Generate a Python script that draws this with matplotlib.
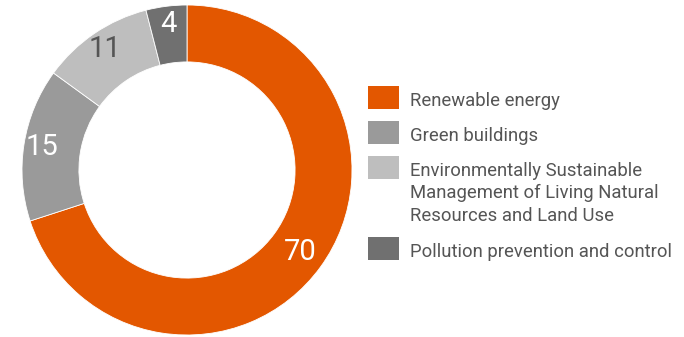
import numpy as np
import matplotlib
matplotlib.use("Agg")
import matplotlib.pyplot as plt
from matplotlib.patches import Rectangle

# data
categories = ["Renewable energy",
              "Green buildings",
              "Environmentally Sustainable\nManagement of Living Natural\nResources and Land Use",
              "Pollution prevention and control"]
values = [70, 15, 11, 4]
colors = ["#E35700", "#9A9A9A", "#BEBEBE", "#707070"]
label_colors = ["white", "white", "#555555", "white"]

plt.rcParams['font.family'] = ['Roboto', 'DejaVu Sans']

W, H = 684, 337
fig = plt.figure(figsize=(W / 100, H / 100), dpi=100)

# donut: centre (187,170) px, outer radius 165 px
cx, cy, R = 187, 170, 165
ax = fig.add_axes([(cx - R) / W, (H - cy - R) / H, 2 * R / W, 2 * R / H])
wedges, _ = ax.pie(values, colors=colors, startangle=90, counterclock=False,
                   radius=1, wedgeprops=dict(width=0.345, edgecolor="white", linewidth=0.6))
ax.set_xlim(-1, 1)
ax.set_ylim(-1, 1)
ax.set_aspect("equal")
ax.axis("off")

for w, v, tc in zip(wedges, values, label_colors):
    ang = np.deg2rad((w.theta1 + w.theta2) / 2)
    r = 0.85 if v > 50 else 0.89
    ax.text(r * np.cos(ang), r * np.sin(ang), str(v), color=tc, fontsize=21,
            ha="center", va="center")

# legend drawn by hand so the multi-line entry aligns to its first line
tops = [86, 121, 156, 237]
for top, lab, c in zip(tops, categories, colors):
    fig.patches.append(Rectangle((368 / W, 1 - (top + 23) / H), 31 / W, 23 / H,
                                 transform=fig.transFigure, facecolor=c, edgecolor="none"))
    for i, line in enumerate(lab.split("\n")):
        base = top + 20 + i * 22.5
        fig.text(410 / W, 1 - base / H, line, color="#555555", fontsize=13.3,
                 ha="left", va="baseline")

fig.savefig("out.png", dpi=100)
